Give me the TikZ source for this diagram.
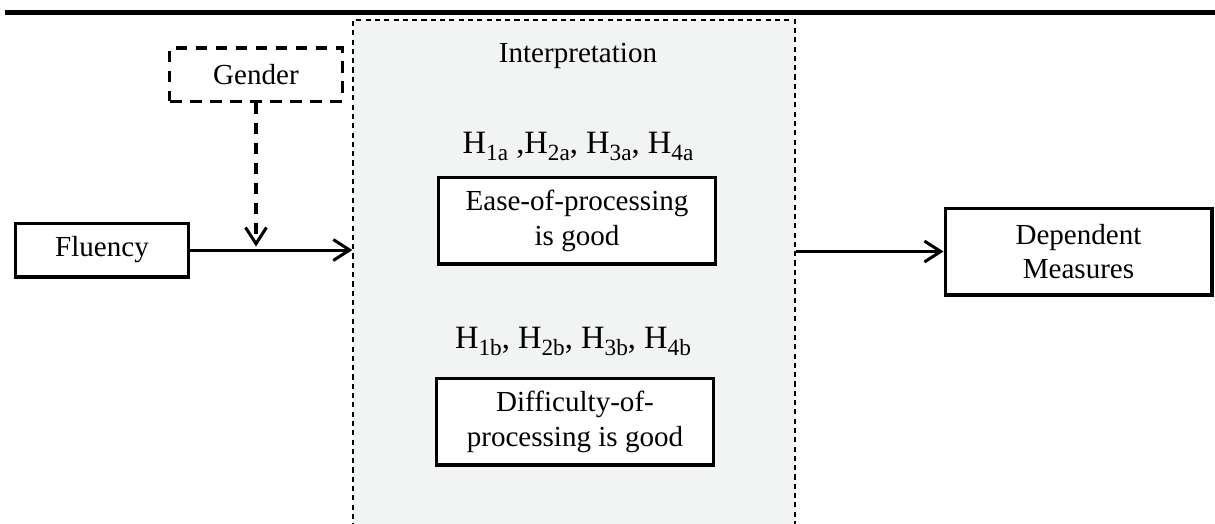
\documentclass[tikz,border=0pt]{standalone}
\usepackage{fontspec}
\setmainfont{Liberation Serif}
\usetikzlibrary{arrows.meta}
\definecolor{panelgray}{HTML}{F2F3F3}
\newcommand\hsub[1]{\raisebox{-3.2pt}{\fontsize{10}{10}\selectfont #1}}

\begin{document}
\begin{tikzpicture}[x=0.43pt,y=-0.43pt,font=\fontsize{12.5}{15}\selectfont,
box/.style={draw,line width=1.3pt,fill=white,align=center,inner sep=2pt,minimum width=#1,minimum height=37.4pt},
dashbox/.style={box=74pt,minimum height=22.8pt,dash pattern=on 5pt off 3.6pt},
panel/.style={draw,fill=panelgray,line width=.6pt,dash pattern=on 2.2pt off 1.8pt,minimum width=190pt,minimum height=223.6pt},
arrow/.style={-{Straight Barb[length=7pt,width=9pt]},line width=1.3pt},
hyp/.style={anchor=base,font=\fontsize{14}{16}\selectfont}]
\useasboundingbox (0,0) rectangle (1215,523);
\draw[line width=2.2pt] (5,12.5) -- (1215,12.5);

\node[panel] (interp) at (574,280) {};
\node[anchor=base] (title) at (578,62) {Interpretation};
\node[hyp] (hypA) at (578,153) {H\hsub{1a} ,H\hsub{2a}, H\hsub{3a}, H\hsub{4a}};
\node[box=118.7pt] (ease) at (577,220.5) {Ease-of-processing\\is good};
\node[hyp] (hypB) at (573,348) {H\hsub{1b}, H\hsub{2b}, H\hsub{3b}, H\hsub{4b}};
\node[box=118.7pt] (difficulty) at (575,421.5) {Difficulty-of-\\processing is good};

\node[box=74.8pt,minimum height=23.2pt] (fluency) at (102,250) {Fluency};
\node[dashbox] (gender) at (256,74.5) {Gender};
\node[box=114.8pt] (dependent) at (1078.5,251.5) {Dependent\\Measures};

\draw[arrow] (fluency.east) -- (fluency.east -| interp.west);
\draw[arrow,dash pattern=on 5pt off 3.6pt,shorten >=1.5pt] (gender.south) -- (gender.south |- fluency.east);
\draw[arrow] (interp.east |- dependent.west) -- (dependent.west);
\end{tikzpicture}
\end{document}
